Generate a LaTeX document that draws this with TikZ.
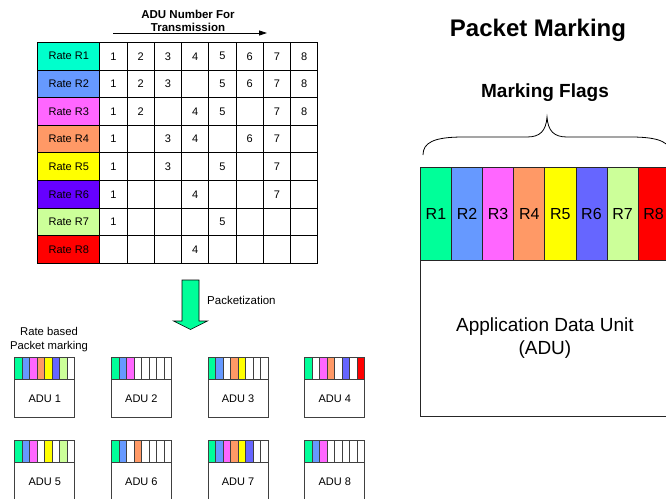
\documentclass[tikz,border=0pt]{standalone}
\usepackage{fontspec}
\setmainfont{Liberation Sans}
\usetikzlibrary{arrows.meta}
% table label colours
\definecolor{t1}{HTML}{00FFCC}
\definecolor{t2}{HTML}{6699FF}
\definecolor{t3}{HTML}{FF66FF}
\definecolor{t4}{HTML}{FF9966}
\definecolor{t5}{HTML}{FFFF00}
\definecolor{t6}{HTML}{6600FF}
\definecolor{t7}{HTML}{CCFF99}
\definecolor{t8}{HTML}{FF0000}
% flag colours
\definecolor{f0}{HTML}{FFFFFF}
\definecolor{f1}{HTML}{00FF99}
\definecolor{f2}{HTML}{6699FF}
\definecolor{f3}{HTML}{FF66FF}
\definecolor{f4}{HTML}{FF9966}
\definecolor{f5}{HTML}{FFFF00}
\definecolor{f6}{HTML}{6666FF}
\definecolor{f7}{HTML}{CCFF99}
\definecolor{f8}{HTML}{FF0000}
\begin{document}
\begin{tikzpicture}[x=1pt,y=-1pt,
  txt/.style={font=\fontsize{11}{13}\selectfont},
  ratecell/.style={draw=black,line width=0.9pt,inner sep=0pt,anchor=north west,
    minimum width=62pt,minimum height=27.6pt,txt},
  numcell/.style={draw=black,line width=0.9pt,inner sep=0pt,anchor=north west,
    minimum width=27.25pt,minimum height=27.6pt,txt},
  smallflag/.style={draw=black!75,line width=0.8pt,inner sep=0pt,anchor=north west,
    minimum width=7.5pt,minimum height=22pt},
  smallbody/.style={draw=black!75,line width=0.8pt,inner sep=0pt,anchor=north west,
    minimum width=60pt,minimum height=38pt,txt},
  bigflag/.style={draw=black!85,line width=0.8pt,inner sep=0pt,anchor=north west,
    minimum width=31.1pt,minimum height=93pt,font=\fontsize{16}{18}\selectfont},
  bigbody/.style={draw=black!85,line width=0.8pt,inner sep=0pt,anchor=north west,
    minimum width=249pt,minimum height=156pt,align=center,
    font=\fontsize{19}{23}\selectfont},
  pktarrow/.style={draw=black,line width=0.6pt,fill=f1},
]
\useasboundingbox (0,0) rectangle (666,498);
\clip (0,0) rectangle (666,498);

% header above the table
\node[txt,font=\fontsize{11.5}{13}\bfseries,align=center] (hdr) at (188,20.5)
  {ADU Number For\\Transmission};
\coordinate (harrowA) at (113,33);
\coordinate (harrowB) at (267,33);
\draw[line width=0.8pt,-{Triangle[length=8pt,width=5pt]}] (harrowA) -- (harrowB);

% table
\foreach \col [count=\i] in {t1,t2,t3,t4,t5,t6,t7,t8}{
  \node[ratecell,fill=\col] (L\i) at (37.3,{42+(\i-1)*27.6}) {Rate R\i};
}
\foreach \row [count=\i] in {
  {1,2,3,4,5,6,7,8},
  {1,2,3,0,5,6,7,8},
  {1,2,0,4,5,0,7,8},
  {1,0,3,4,0,6,7,0},
  {1,0,3,0,5,0,7,0},
  {1,0,0,4,0,0,7,0},
  {1,0,0,0,5,0,0,0},
  {0,0,0,4,0,0,0,0}}{
  \foreach \v [count=\j] in \row {
    \node[numcell] (c\i-\j) at ({99.3+(\j-1)*27.25},{42+(\i-1)*27.6})
      {\ifnum\v=0 \else\v\fi};
  }
}

% packetization arrow
\coordinate (pa1) at (182,280);
\coordinate (pa2) at (199,280);
\coordinate (pa3) at (199,321);
\coordinate (pa4) at (207.5,321);
\coordinate (pa5) at (190.5,329.5);
\coordinate (pa6) at (173.5,321);
\coordinate (pa7) at (182,321);
\draw[pktarrow] (pa1) -- (pa2) -- (pa3) -- (pa4) -- (pa5) -- (pa6) -- (pa7) -- cycle;
\node[txt,anchor=west,inner sep=0pt,font=\fontsize{11.5}{13}\selectfont] (pkt) at (207,300) {Packetization};

\node[txt,align=center,inner sep=0pt,font=\fontsize{11.3}{14}\selectfont] (rbm) at (49,340)
  {Rate based\\Packet marking};

% small ADU boxes
\foreach \k/\x/\y/\fl in {
  1/14.3/357/{1,2,3,4,5,6,7,0},
  2/111/357/{1,2,3,0,0,0,0,0},
  3/207.7/357/{1,2,0,4,5,0,0,0},
  4/304.3/357/{1,0,3,4,0,6,0,8},
  5/14.3/440/{1,2,3,0,5,0,7,0},
  6/111/440/{1,2,0,4,0,0,0,0},
  7/207.7/440/{1,2,3,4,5,6,0,0},
  8/304.3/440/{1,2,3,0,0,0,0,0}}{
  \foreach \c [count=\j] in \fl {
    \node[smallflag,fill=f\c] (a\k-\j) at ({\x+(\j-1)*7.5},\y) {};
  }
  \node[smallbody] (adu\k) at (\x,{\y+22}) {ADU \k};
}

% right panel
\node[font=\fontsize{24}{28}\bfseries\selectfont] (title) at (538,30) {Packet Marking};
\node[font=\fontsize{19}{22}\bfseries\selectfont] (mf) at (545,93) {Marking Flags};

\coordinate (brL) at (423,155);
\coordinate (brT) at (547,117);
\coordinate (brR) at (671,155);
\draw[line width=0.8pt] (brL) .. controls (423,143) and (433,137) .. (463,137)
  -- (527,137) .. controls (540,137) and (546,131) .. (brT)
  .. controls (548,131) and (554,137) .. (567,137)
  -- (631,137) .. controls (661,137) and (671,143) .. (brR);

\foreach \j in {1,...,8}{
  \node[bigflag,fill=f\j] (R\j) at ({420+(\j-1)*31.1},167) {R\j};
}
\node[bigbody] (adu) at (420,260) {Application Data Unit\\(ADU)};
\end{tikzpicture}
\end{document}
